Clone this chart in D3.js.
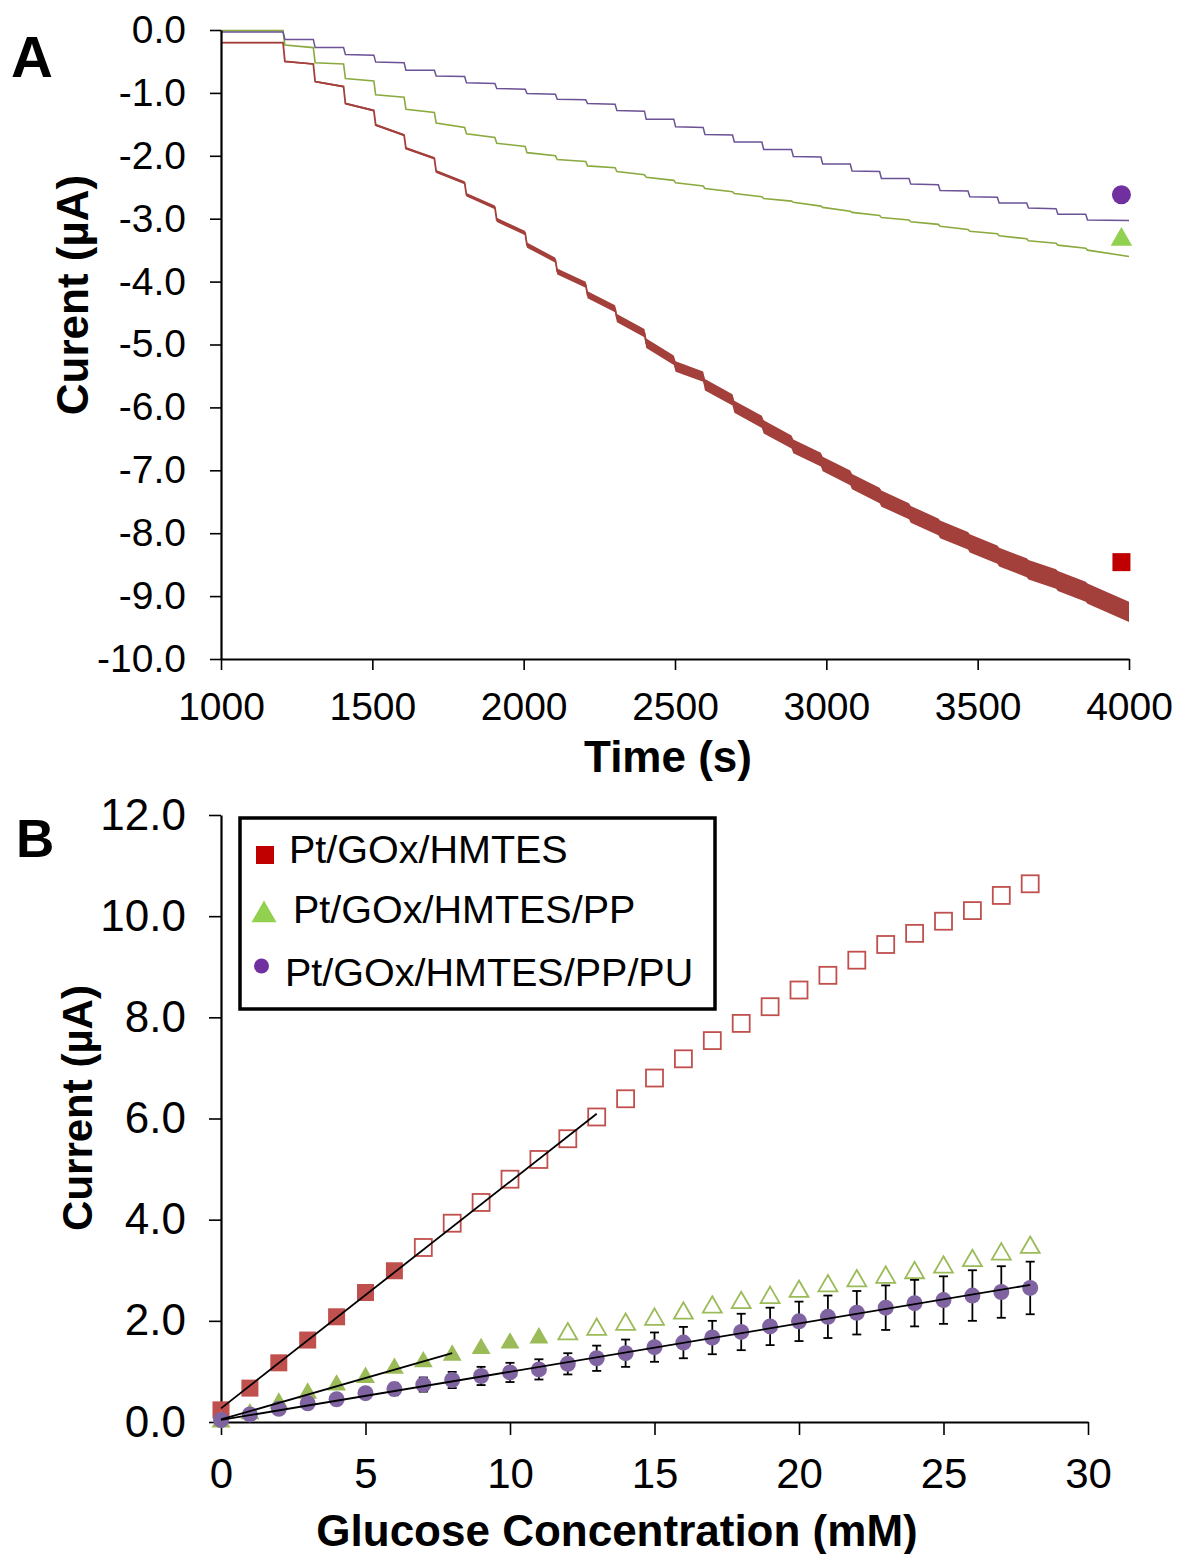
<!DOCTYPE html>
<html>
<head>
<meta charset="utf-8">
<script src="https://cdn.jsdelivr.net/npm/d3@7"></script>
<style>
  body { margin: 0; background: #fff; }
  svg text { font-family: "Liberation Sans", Arial, sans-serif; }
</style>
</head>
<body>
<div id="chart"></div>
<script>
// ---------- Panel A: amperometric traces ----------
// glucose additions (s)
const stepTimes = [1205, 1305, 1405, 1505, 1605, 1705, 1805, 1905, 2005, 2105, 2205, 2302, 2399, 2496,
  2593, 2690, 2787, 2885, 2982, 3079, 3176, 3273, 3370, 3468, 3565, 3662, 3759, 3857];

// current just before / just after each addition (µA)
const redStart = -0.20, redEnd = -9.25;
const redBefore = [-0.20, -0.54, -0.90, -1.28, -1.67, -2.04, -2.43, -2.82, -3.23, -3.66, -4.05, -4.43, -4.82, -5.25,
  -5.51, -5.88, -6.23, -6.55, -6.83, -7.12, -7.40, -7.65, -7.90, -8.12, -8.34, -8.55, -8.73, -8.93];
const redAfter = [-0.50, -0.82, -1.17, -1.51, -1.88, -2.25, -2.62, -3.02, -3.42, -3.84, -4.21, -4.58, -4.98, -5.35,
  -5.64, -5.99, -6.31, -6.62, -6.90, -7.18, -7.45, -7.70, -7.94, -8.16, -8.38, -8.58, -8.76, -8.96];
// noise half-width of the red trace per segment (µA)
const redNoise = [0.01, 0.012, 0.014, 0.016, 0.018, 0.02, 0.024, 0.028, 0.034, 0.04, 0.048, 0.056, 0.066, 0.075,
  0.082, 0.09, 0.097, 0.104, 0.11, 0.116, 0.122, 0.128, 0.134, 0.14, 0.145, 0.15, 0.155, 0.16, 0.16];

const greenStart = -0.01, greenEnd = -3.60;
const greenBefore = [-0.01, -0.28, -0.54, -0.81, -1.07, -1.31, -1.55, -1.71, -1.85, -2.00, -2.09, -2.19, -2.30, -2.39,
  -2.48, -2.57, -2.65, -2.72, -2.80, -2.88, -2.95, -3.02, -3.09, -3.17, -3.24, -3.32, -3.39, -3.47];
const greenAfter = [-0.24, -0.52, -0.77, -1.03, -1.26, -1.48, -1.65, -1.80, -1.95, -2.06, -2.16, -2.25, -2.34, -2.43,
  -2.52, -2.60, -2.68, -2.74, -2.82, -2.90, -2.98, -3.05, -3.12, -3.20, -3.27, -3.35, -3.42, -3.50];

const purpleStart = -0.03, purpleEnd = -3.03;
const purpleBefore = [-0.03, -0.15, -0.28, -0.40, -0.52, -0.64, -0.74, -0.85, -0.94, -1.02, -1.11, -1.18, -1.29, -1.42,
  -1.55, -1.67, -1.78, -1.90, -2.02, -2.13, -2.25, -2.36, -2.46, -2.56, -2.66, -2.75, -2.84, -2.93];
const purpleAfter = [-0.15, -0.28, -0.39, -0.51, -0.64, -0.73, -0.84, -0.93, -1.01, -1.10, -1.17, -1.28, -1.42, -1.54,
  -1.66, -1.78, -1.90, -2.01, -2.13, -2.24, -2.36, -2.45, -2.55, -2.65, -2.75, -2.83, -2.93, -3.02];

// identifying markers at the end of the traces
const endMarkerTime = 3975;
const endMarkerValues = { red: -8.46, green: -3.33, purple: -2.62 };

const xTicksA = [1000, 1500, 2000, 2500, 3000, 3500, 4000];
const yTicksA = [0, -1, -2, -3, -4, -5, -6, -7, -8, -9, -10];

// ---------- Panel B: calibration ----------
const conc = [0, 1, 2, 3, 4, 5, 6, 7, 8, 9, 10, 11, 12, 13, 14, 15, 16, 17, 18, 19, 20, 21, 22, 23, 24, 25, 26, 27, 28];
const redB = [0.24, 0.67, 1.17, 1.62, 2.08, 2.56, 2.99, 3.45, 3.93, 4.34, 4.80, 5.19, 5.60, 6.03, 6.39, 6.80, 7.18,
  7.54, 7.88, 8.21, 8.54, 8.83, 9.13, 9.44, 9.66, 9.90, 10.11, 10.41, 10.64];
const greenB = [0.00, 0.16, 0.37, 0.57, 0.73, 0.88, 1.06, 1.19, 1.32, 1.45, 1.56, 1.66, 1.74, 1.83, 1.93, 2.03, 2.15,
  2.27, 2.36, 2.46, 2.58, 2.69, 2.79, 2.86, 2.95, 3.06, 3.19, 3.32, 3.45];
const purpleB = [0.04, 0.15, 0.26, 0.37, 0.45, 0.57, 0.65, 0.74, 0.83, 0.91, 0.98, 1.04, 1.15, 1.26, 1.36, 1.48, 1.57,
  1.67, 1.78, 1.89, 1.99, 2.08, 2.16, 2.26, 2.35, 2.41, 2.50, 2.57, 2.65];
const purpleErr = [0.02, 0.04, 0.05, 0.07, 0.08, 0.10, 0.12, 0.14, 0.16, 0.18, 0.19, 0.20, 0.21, 0.25, 0.27, 0.29, 0.31,
  0.33, 0.36, 0.37, 0.39, 0.42, 0.43, 0.44, 0.46, 0.47, 0.50, 0.51, 0.52];
// points up to this concentration are the linear range (filled markers)
const redLinearMax = 6, greenLinearMax = 11;

// linear fits
const fitLines = [
  { slope: 0.448, intercept: 0.27, xmax: 13 },
  { slope: 0.164, intercept: 0.05, xmax: 8 },
  { slope: 0.0954, intercept: 0.04, xmax: 28 }
];

const xTicksB = [0, 5, 10, 15, 20, 25, 30];
const yTicksB = [0, 2, 4, 6, 8, 10, 12];

const legendLabels = ["Pt/GOx/HMTES", "Pt/GOx/HMTES/PP", "Pt/GOx/HMTES/PP/PU"];

// =========================
// SETUP
// =========================
const FONT = '"Liberation Sans", Arial, sans-serif';
const svg = d3.select("#chart").append("svg")
  .attr("width", 1178)
  .attr("height", 1554)
  .style("background", "#fff");

const col = {
  redTrace: "#a4403c", greenTrace: "#8aaa3f", purpleTrace: "#6b5196",
  redMark: "#c00000", greenMark: "#92d050", purpleMark: "#7030a0",
  redB: "#c0504d", greenB: "#9bbb59", purpleB: "#8064a2"
};

function styleAxis(g, fontSize) {
  g.attr("font-family", FONT).attr("font-size", fontSize);
  g.select(".domain").attr("stroke", "#000").attr("stroke-width", 2.2);
  g.selectAll(".tick line").attr("stroke", "#000").attr("stroke-width", 1.6);
  g.selectAll(".tick text").attr("fill", "#000");
}

// =========================
// PANEL A
// =========================
const xA = d3.scaleLinear().domain([1000, 4000]).range([221, 1129]);
const yA = d3.scaleLinear().domain([-10, 0]).range([659, 30]);

function tracePoints(start, before, after, end, noise) {
  const pts = [{ t: 1000, v: start, n: noise ? noise[0] : 0 }];
  stepTimes.forEach((t, i) => {
    pts.push({ t: t, v: before[i], n: noise ? noise[i] : 0 });
    pts.push({ t: t + 6, v: after[i], n: noise ? noise[i + 1] : 0 });
  });
  pts.push({ t: 4000, v: end, n: noise ? noise[noise.length - 1] : 0 });
  return pts;
}

const redPts = tracePoints(redStart, redBefore, redAfter, redEnd, redNoise);
const greenPts = tracePoints(greenStart, greenBefore, greenAfter, greenEnd);
const purplePts = tracePoints(purpleStart, purpleBefore, purpleAfter, purpleEnd);

const lineA = d3.line().x(d => xA(d.t)).y(d => yA(d.v));
const bandA = d3.area().x(d => xA(d.t)).y0(d => yA(d.v - d.n)).y1(d => yA(d.v + d.n));

const panelA = svg.append("g");

panelA.append("path").datum(redPts)
  .attr("d", bandA).attr("fill", col.redTrace);
panelA.append("path").datum(redPts)
  .attr("d", lineA).attr("fill", "none").attr("stroke", col.redTrace).attr("stroke-width", 1.8);
panelA.append("path").datum(greenPts)
  .attr("d", lineA).attr("fill", "none").attr("stroke", col.greenTrace).attr("stroke-width", 1.6);
panelA.append("path").datum(purplePts)
  .attr("d", lineA).attr("fill", "none").attr("stroke", col.purpleTrace).attr("stroke-width", 1.5);

// end markers
panelA.append("rect")
  .attr("x", xA(endMarkerTime) - 9).attr("y", yA(endMarkerValues.red) - 9)
  .attr("width", 18).attr("height", 18).attr("fill", col.redMark);
panelA.append("path")
  .attr("d", d3.symbol().type(d3.symbolTriangle).size(200)())
  .attr("transform", `translate(${xA(endMarkerTime)},${yA(endMarkerValues.green)})`)
  .attr("fill", col.greenMark);
panelA.append("circle")
  .attr("cx", xA(endMarkerTime)).attr("cy", yA(endMarkerValues.purple)).attr("r", 9.5)
  .attr("fill", col.purpleMark);

// axes
panelA.append("g")
  .attr("transform", "translate(0,659)")
  .call(d3.axisBottom(xA).tickValues(xTicksA).tickSize(11).tickSizeOuter(0).tickPadding(22).tickFormat(d => d))
  .call(g => styleAxis(g, 39));

panelA.append("g")
  .attr("transform", "translate(221,0)")
  .call(d3.axisLeft(yA).tickValues(yTicksA).tickSize(11).tickSizeOuter(0).tickPadding(24).tickFormat(d => d.toFixed(1)))
  .call(g => styleAxis(g, 39));

panelA.append("text")
  .attr("x", 668).attr("y", 772)
  .attr("text-anchor", "middle")
  .style("font-size", "44px").style("font-weight", "bold")
  .text("Time (s)");

panelA.append("text")
  .attr("transform", "rotate(-90)")
  .attr("x", -295).attr("y", 88)
  .attr("text-anchor", "middle")
  .style("font-size", "44px").style("font-weight", "bold")
  .text("Curent (µA)");

panelA.append("text")
  .attr("x", 11).attr("y", 77)
  .style("font-size", "58px").style("font-weight", "bold")
  .text("A");

// =========================
// PANEL B
// =========================
const xB = d3.scaleLinear().domain([0, 30]).range([221, 1088]);
const yB = d3.scaleLinear().domain([0, 12]).range([1422, 815]);

const panelB = svg.append("g");

// axes first so markers sit on top
panelB.append("g")
  .attr("transform", "translate(0,1422)")
  .call(d3.axisBottom(xB).tickValues(xTicksB).tickSize(13).tickSizeOuter(0).tickPadding(23).tickFormat(d => d))
  .call(g => styleAxis(g, 42));

panelB.append("g")
  .attr("transform", "translate(221,0)")
  .call(d3.axisLeft(yB).tickValues(yTicksB).tickSize(12).tickSizeOuter(0).tickPadding(23).tickFormat(d => d.toFixed(1)))
  .call(g => styleAxis(g, 44));

const bData = conc.map((c, i) => ({ c: c, r: redB[i], g: greenB[i], p: purpleB[i], e: purpleErr[i] }));

// red squares
panelB.selectAll(".sqB").data(bData).enter().append("rect")
  .attr("class", "sqB")
  .attr("x", d => xB(d.c) - 8.5).attr("y", d => yB(d.r) - 8.5)
  .attr("width", 17).attr("height", 17)
  .attr("fill", d => d.c <= redLinearMax ? col.redB : "#fff")
  .attr("stroke", col.redB)
  .attr("stroke-width", d => d.c <= redLinearMax ? 0 : 1.8);

// green triangles
panelB.selectAll(".triB").data(bData).enter().append("path")
  .attr("class", "triB")
  .attr("d", d3.symbol().type(d3.symbolTriangle).size(155)())
  .attr("transform", d => `translate(${xB(d.c)},${yB(d.g)})`)
  .attr("fill", d => d.c <= greenLinearMax ? col.greenB : "#fff")
  .attr("stroke", col.greenB)
  .attr("stroke-width", d => d.c <= greenLinearMax ? 0 : 1.8);

// purple error bars
const eb = panelB.selectAll(".errB").data(bData).enter().append("g").attr("class", "errB")
  .attr("stroke", "#000").attr("stroke-width", 1.8);
eb.append("line")
  .attr("x1", d => xB(d.c)).attr("x2", d => xB(d.c))
  .attr("y1", d => yB(d.p + d.e)).attr("y2", d => yB(d.p - d.e));
eb.append("line")
  .attr("x1", d => xB(d.c) - 4.5).attr("x2", d => xB(d.c) + 4.5)
  .attr("y1", d => yB(d.p + d.e)).attr("y2", d => yB(d.p + d.e));
eb.append("line")
  .attr("x1", d => xB(d.c) - 4.5).attr("x2", d => xB(d.c) + 4.5)
  .attr("y1", d => yB(d.p - d.e)).attr("y2", d => yB(d.p - d.e));

// purple circles
panelB.selectAll(".cirB").data(bData).enter().append("circle")
  .attr("class", "cirB")
  .attr("cx", d => xB(d.c)).attr("cy", d => yB(d.p)).attr("r", 8)
  .attr("fill", col.purpleB);

// fit lines
panelB.selectAll(".fitB").data(fitLines).enter().append("line")
  .attr("class", "fitB")
  .attr("x1", xB(0)).attr("y1", d => yB(d.intercept))
  .attr("x2", d => xB(d.xmax)).attr("y2", d => yB(d.intercept + d.slope * d.xmax))
  .attr("stroke", "#000").attr("stroke-width", 1.8);

// legend
const legend = panelB.append("g");
legend.append("rect")
  .attr("x", 240).attr("y", 818).attr("width", 475).attr("height", 191)
  .attr("fill", "#fff").attr("stroke", "#000").attr("stroke-width", 3.5);
legend.append("rect")
  .attr("x", 256).attr("y", 846).attr("width", 18).attr("height", 18).attr("fill", col.redMark);
legend.append("path")
  .attr("d", d3.symbol().type(d3.symbolTriangle).size(270)())
  .attr("transform", "translate(264,915)")
  .attr("fill", col.greenMark);
legend.append("circle")
  .attr("cx", 261.5).attr("cy", 966).attr("r", 7.5).attr("fill", col.purpleMark);

const legendX = [289, 293, 285];
const legendY = [863, 923, 986];
legendLabels.forEach((label, i) => {
  legend.append("text")
    .attr("x", legendX[i]).attr("y", legendY[i])
    .style("font-size", "39.5px")
    .text(label);
});

panelB.append("text")
  .attr("x", 617).attr("y", 1546)
  .attr("text-anchor", "middle")
  .style("font-size", "44px").style("font-weight", "bold")
  .text("Glucose Concentration (mM)");

panelB.append("text")
  .attr("transform", "rotate(-90)")
  .attr("x", -1108).attr("y", 92)
  .attr("text-anchor", "middle")
  .style("font-size", "42px").style("font-weight", "bold")
  .text("Current (µA)");

panelB.append("text")
  .attr("x", 16).attr("y", 857)
  .style("font-size", "53px").style("font-weight", "bold")
  .text("B");
</script>
</body>
</html>
